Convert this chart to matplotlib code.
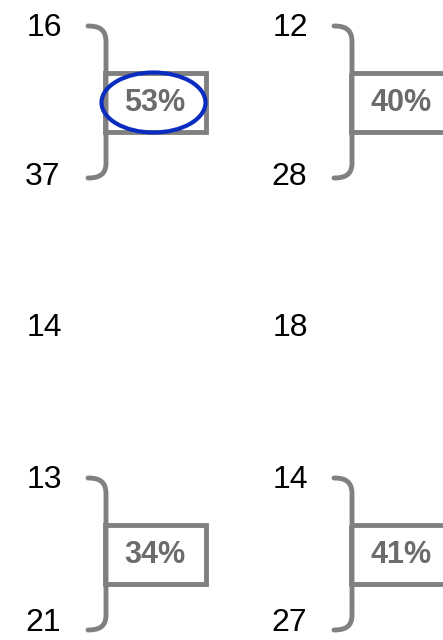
import matplotlib.pyplot as plt
from matplotlib.path import Path
from matplotlib.patches import PathPatch, Rectangle, Ellipse

# values
top_labels = ["16", "12", "13", "14"]
bottom_labels = ["37", "28", "21", "27"]
percents = ["53%", "40%", "34%", "41%"]
middle_labels = ["14", "18"]
highlighted = [True, False, False, False]

# grid of the four bracket groups (column offset, row offset) in pixels
cols = [0, 246]
rows = [0, 452]
groups = [(c, r) for r in rows for c in cols]
# baselines of the lower labels, the last row is kept just inside the edge
bottom_baseline = {0: 185, 452: 631}

gray = "#808080"
font = "Liberation Sans"

fig = plt.figure(figsize=(4.43, 6.40), dpi=100)
ax = fig.add_axes([0, 0, 1, 1])
ax.set_xlim(0, 443)
ax.set_ylim(640, 0)
ax.axis("off")

for i, (dx, dy) in enumerate(groups):
    ax.text(44 + dx, 28 + dy, top_labels[i], fontsize=23, ha="center", va="center",
            family=font, color="black")
    ax.text(43 + dx, bottom_baseline[dy], bottom_labels[i], fontsize=23, ha="center",
            va="baseline", family=font, color="black")

    # rounded bracket
    verts = [(88 + dx, 26 + dy), (100 + dx, 26 + dy), (106 + dx, 30 + dy), (106 + dx, 42 + dy),
             (106 + dx, 163 + dy),
             (106 + dx, 174 + dy), (100 + dx, 178 + dy), (88 + dx, 178 + dy)]
    codes = [Path.MOVETO, Path.CURVE4, Path.CURVE4, Path.CURVE4,
             Path.LINETO,
             Path.CURVE4, Path.CURVE4, Path.CURVE4]
    ax.add_patch(PathPatch(Path(verts, codes), fill=False, edgecolor=gray, lw=3.5,
                           capstyle="round"))

    # box with percentage
    ax.add_patch(Rectangle((105.5 + dx, 72.5 + dy), 101, 59, fill=False, edgecolor=gray,
                           lw=3.5))
    ax.text(155 + dx, 103 + dy, percents[i], fontsize=22, fontweight="bold", ha="center",
            va="center", family=font, color="#6b6b6b")

    if highlighted[i]:
        ax.add_patch(Ellipse((153.5 + dx, 102.5 + dy), 104, 60, fill=False,
                             edgecolor="#0a2dc0", lw=3.0))

for j, lab in enumerate(middle_labels):
    ax.text(44 + cols[j], 328, lab, fontsize=23, ha="center", va="center",
            family=font, color="black")

fig.savefig("out.png", dpi=100)
